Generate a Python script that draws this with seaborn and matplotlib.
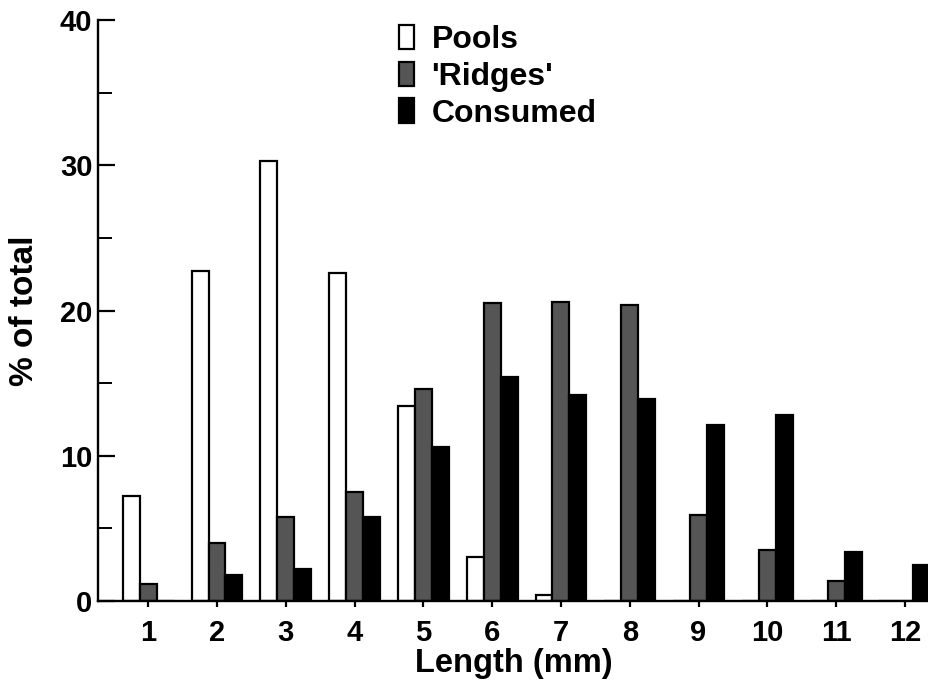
import matplotlib
matplotlib.use("Agg")
import matplotlib.pyplot as plt
from matplotlib.patches import Patch
from matplotlib.ticker import MultipleLocator
import pandas as pd
import seaborn as sns

# Length classes (mm) and percentage of total for each group
lengths = ["1", "2", "3", "4", "5", "6", "7", "8", "9", "10", "11", "12"]
pools = [7.2, 22.7, 30.3, 22.6, 13.4, 3.0, 0.4, 0, 0, 0, 0, 0]
ridges = [1.2, 4.0, 5.8, 7.5, 14.6, 20.5, 20.6, 20.4, 5.9, 3.5, 1.4, 0]
consumed = [0, 1.8, 2.2, 5.8, 10.6, 15.4, 14.2, 13.9, 12.1, 12.8, 3.4, 2.5]

series_names = ["Pools", "'Ridges'", "Consumed"]
series_colors = ["#ffffff", "#555555", "#000000"]

df = pd.DataFrame({
    "length": lengths * 3,
    "pct": pools + ridges + consumed,
    "series": [s for s in series_names for _ in lengths],
})

sns.set_theme(style="ticks")
plt.rcParams["font.family"] = ["Liberation Sans", "DejaVu Sans"]
plt.rcParams["font.weight"] = "bold"
plt.rcParams["text.color"] = "black"
plt.rcParams["axes.labelcolor"] = "black"

fig = plt.figure(figsize=(9.29, 6.89), dpi=100)
ax = fig.add_axes([98 / 929, 88 / 689, 831 / 929, 581 / 689])

sns.barplot(
    data=df, x="length", y="pct", hue="series",
    order=lengths, hue_order=series_names, palette=series_colors,
    width=0.74, saturation=1, edgecolor="black", linewidth=1.6,
    errorbar=None, legend=False, ax=ax,
)

ax.set_ylim(0, 40)
ax.set_xlim(-0.73, 11.35)
ax.yaxis.set_major_locator(MultipleLocator(10))
ax.yaxis.set_minor_locator(MultipleLocator(5))

for side in ("top", "right"):
    ax.spines[side].set_visible(False)
for side in ("left", "bottom"):
    ax.spines[side].set_linewidth(1.7)
    ax.spines[side].set_color("black")

ax.tick_params(axis="y", which="major", direction="in", length=12, width=1.6,
               pad=4, labelsize=21, colors="black")
ax.tick_params(axis="y", which="minor", direction="in", length=10, width=1.4,
               colors="black")
ax.tick_params(axis="x", which="major", direction="out", length=4, width=1.6,
               pad=9, labelsize=21, colors="black")

ax.set_xlabel("Length (mm)", fontsize=23.5, fontweight="bold", labelpad=1,
              color="black")
ax.set_ylabel("% of total", fontsize=24, fontweight="bold", labelpad=14,
              color="black")

handles = [Patch(facecolor=c, edgecolor="black", linewidth=1.6) for c in series_colors]
leg = ax.legend(
    handles, series_names, loc="upper left",
    bbox_to_anchor=(399 / 929, 1 - 25 / 689), bbox_transform=fig.transFigure,
    frameon=False, fontsize=23, handlelength=0.47, handleheight=0.8,
    handletextpad=0.55, labelspacing=0.2, borderpad=0, borderaxespad=0,
)
for t in leg.get_texts():
    t.set_color("black")

fig.savefig("out.png", dpi=100, facecolor="white")
